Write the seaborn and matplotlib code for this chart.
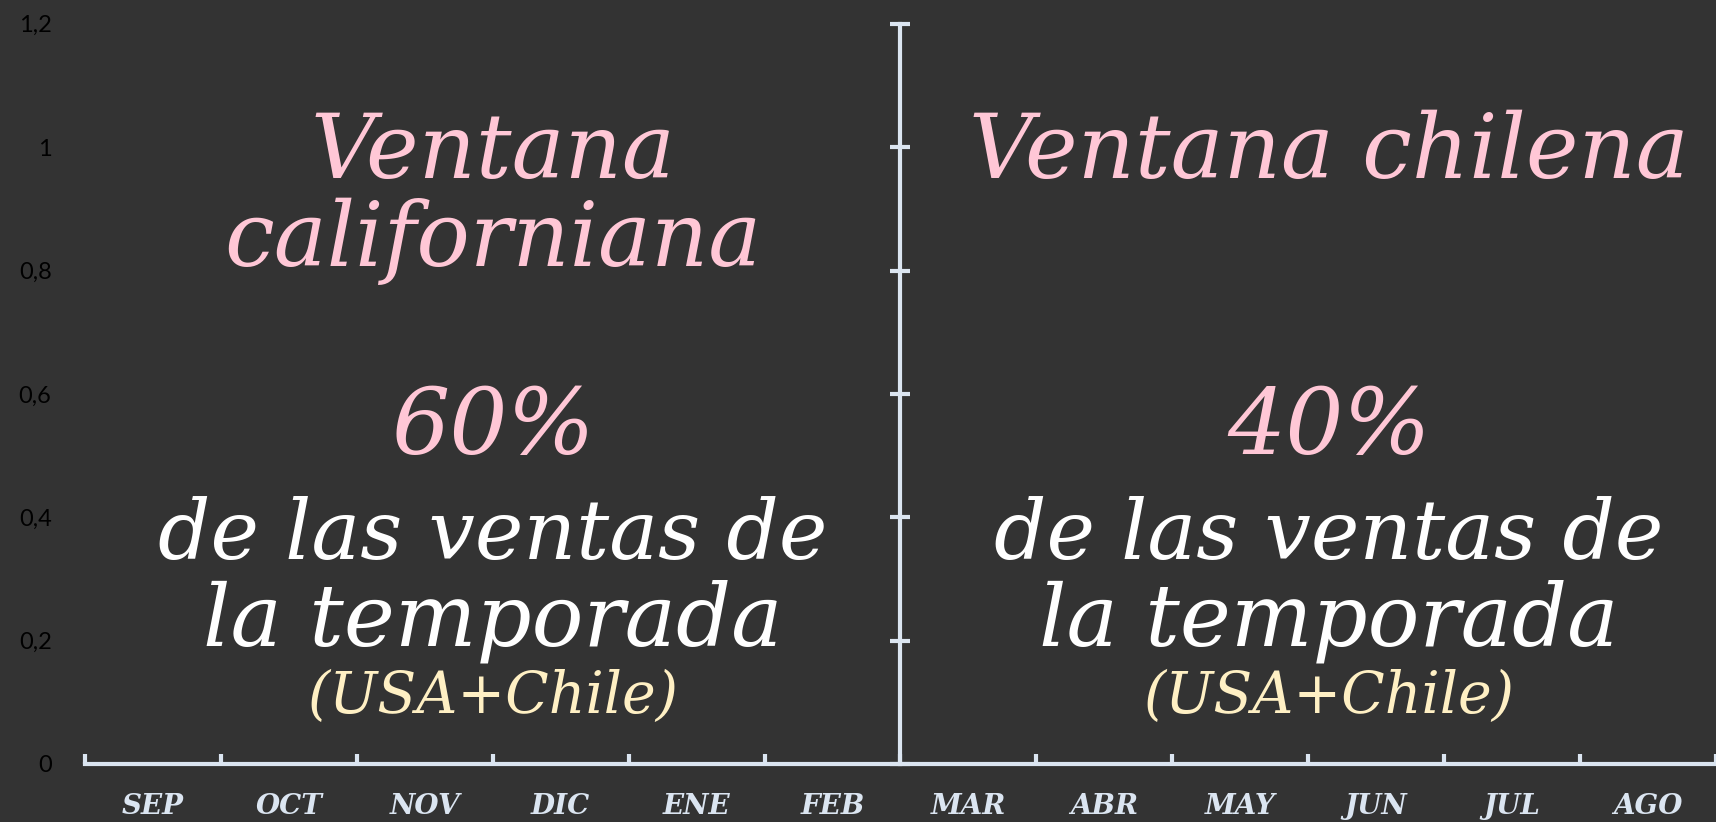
import matplotlib
matplotlib.use("Agg")
import matplotlib.pyplot as plt
from matplotlib.ticker import FixedLocator
import numpy as np
import pandas as pd
import seaborn as sns

# data
months = ['SEP', 'OCT', 'NOV', 'DIC', 'ENE', 'FEB',
          'MAR', 'ABR', 'MAY', 'JUN', 'JUL', 'AGO']
sales = [0, 0, 0, 0, 0, 0, 0, 0, 0, 0, 0, 0]
y_ticks = [0, 0.2, 0.4, 0.6, 0.8, 1.0, 1.2]
y_labels = ['0', '0,2', '0,4', '0,6', '0,8', '1', '1,2']
windows = ['Ventana\ncaliforniana', 'Ventana chilena']
shares = [60, 40]
window_months = [months[:6], months[6:]]

board = '#333333'
chalk = '#dbe5f1'
pink = '#ffc7d6'
cream = '#fff0c4'
script = 'DejaVu Serif'

sns.set_theme(style="white")
plt.rcParams['font.family'] = ['DejaVu Serif']

df = pd.DataFrame({'month': months, 'sales': sales})

fig = plt.figure(figsize=(17.16, 8.22), dpi=100)
fig.patch.set_facecolor(board)
ax = fig.add_axes([0.0495, 0.0706, 0.9505, 0.9004])
ax.set_facecolor(board)

sns.barplot(data=df, x='month', y='sales', color=chalk, ax=ax)
ax.set_xlim(-0.5, len(months) - 0.5)
ax.set_ylim(0, 1.2)
ax.set_xlabel('')
ax.set_ylabel('')

# y labels on far left, no spine
ax.set_yticks(y_ticks)
ax.set_yticklabels(y_labels, family='Lato', fontsize=17, color='black')
ax.tick_params(axis='y', length=0, pad=24)
for s in ['left', 'right', 'top']:
    ax.spines[s].set_visible(False)

# x axis chalk line with boundary ticks
ax.spines['bottom'].set_color(chalk)
ax.spines['bottom'].set_linewidth(3)
ax.xaxis.set_minor_locator(FixedLocator(np.arange(-0.5, len(months), 1)))
ax.tick_params(axis='x', which='major', length=0, pad=21)
ax.tick_params(axis='x', which='minor', bottom=True, direction='in',
               length=7, width=3, color=chalk)
for lbl in ax.get_xticklabels():
    lbl.set_fontsize(20)
    lbl.set_style('italic')
    lbl.set_fontweight('bold')
    lbl.set_color(chalk)
    lbl.set_family(script)

# middle vertical axis between the two windows
split = len(window_months[0]) - 0.5
ax2 = ax.twinx()
ax2.set_ylim(0, 1.2)
ax2.set_yticks(y_ticks)
ax2.set_yticklabels([])
for s in ['left', 'top', 'bottom']:
    ax2.spines[s].set_visible(False)
ax2.spines['right'].set_position(('data', split))
ax2.spines['right'].set_color(chalk)
ax2.spines['right'].set_linewidth(3)
ax2.tick_params(axis='y', direction='inout', length=14, width=3, color=chalk)

# window texts
centers = [np.mean([months.index(m) for m in w]) for w in window_months]
centers[1] += 0.15
for name, share, cx in zip(windows, shares, centers):
    if '\n' in name:
        top, bottom = name.split('\n')
        ax.text(cx, 0.99, top, ha='center', va='center', fontsize=64,
                style='italic', color=pink, family=script)
        ax.text(cx, 0.847, bottom, ha='center', va='center', fontsize=64,
                style='italic', color=pink, family=script)
    else:
        ax.text(cx, 0.99, name, ha='center', va='center', fontsize=64,
                style='italic', color=pink, family=script)
    ax.text(cx, 0.543, f'{share}%', ha='center', va='center', fontsize=66,
            style='italic', color=pink, family=script)
    ax.text(cx, 0.370, 'de las ventas de', ha='center', va='center',
            fontsize=59, style='italic', color='white', family=script)
    ax.text(cx, 0.232, 'la temporada', ha='center', va='center',
            fontsize=62, style='italic', color='white', family=script)
    ax.text(cx, 0.109, '(USA+Chile)', ha='center', va='center',
            fontsize=41, style='italic', color=cream, family=script)

fig.savefig("out.png", dpi=100, facecolor=board)
